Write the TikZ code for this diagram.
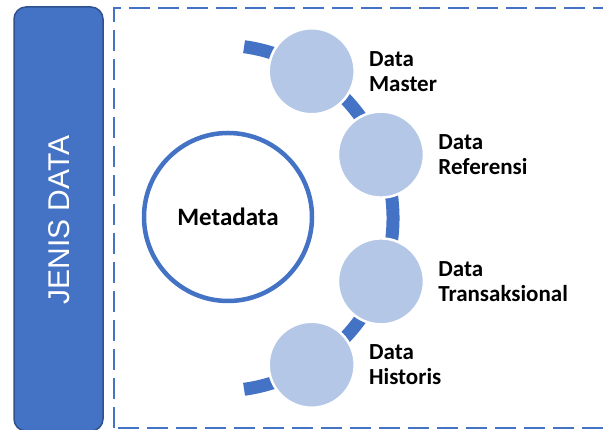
\documentclass[tikz,border=0pt]{standalone}
\usepackage{fontspec}
\setmainfont{Carlito}
\newfontfamily\jenisfont{Liberation Sans}
\usetikzlibrary{calc,positioning}
\definecolor{jdblue}{HTML}{4472C4}
\definecolor{jdedge}{HTML}{2F528F}
\definecolor{jdlight}{HTML}{B4C7E7}
\tikzset{
  kind/.style={circle, fill=jdlight, draw=white, line width=2.5pt, minimum size=86pt, inner sep=0pt},
  kindlabel/.style={font=\bfseries\fontsize{23}{25}\selectfont, align=left, inner sep=0pt},
}

\begin{document}
\begin{tikzpicture}[x=1pt, y=1pt]
			%%%%% START %%%%%
			\useasboundingbox (0, 0) rectangle (603, 430);
			
			\draw[fill=jdblue, draw=jdedge, line width=1.5pt, rounded corners=12pt] (14, 423) rectangle (103, -1);
			\node[rotate=90, text=white, font=\jenisfont\fontsize{30}{36}\selectfont] (jenis) at (59, 210) {JENIS DATA};
			
			\draw[jdblue, line width=1.5pt, dash pattern=on 21pt off 8pt] (114, 2) rectangle (620, 422);
			
			\coordinate (hub) at (220, 212);
			\draw[jdblue, line width=13pt] (hub) ++(-82:173) arc (-82:82:173);
			
			\node[circle, draw=jdblue, fill=white, line width=4.5pt, minimum size=168pt, font=\bfseries\fontsize{25}{30}\selectfont] (meta) at (228, 213) {Metadata};
			
			\node[kind] (master) at ($(hub)+(58:173)$) {};
			\node[kind] (referensi) at ($(hub)+(21.5:173)$) {};
			\node[kind] (transaksi) at ($(hub)+(-21.5:173)$) {};
			\node[kind] (historis) at ($(hub)+(-58:173)$) {};
			
			\node[kindlabel, right=13pt of master] (masterlbl) {Data\\Master};
			\node[kindlabel, right=13pt of referensi] (referensilbl) {Data\\Referensi};
			\node[kindlabel, right=13pt of transaksi] (transaksilbl) {Data\\Transaksional};
			\node[kindlabel, right=13pt of historis] (historislbl) {Data\\Historis};
			%%%%% END %%%%%
\end{tikzpicture}
\end{document}
